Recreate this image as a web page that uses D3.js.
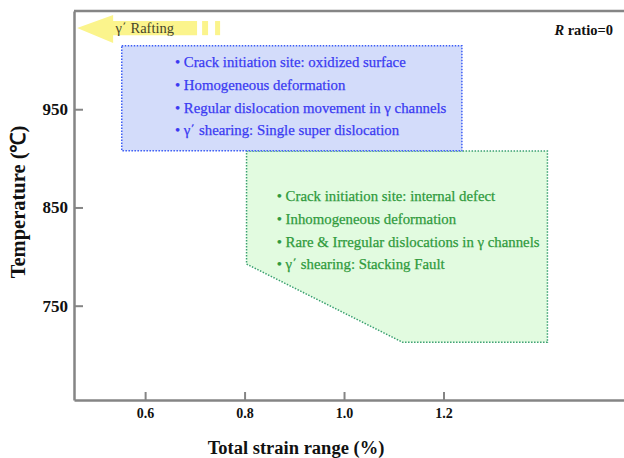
<!DOCTYPE html>
<html>
<head>
<meta charset="utf-8">
<script src="https://cdn.jsdelivr.net/npm/d3@7"></script>
<style>
  body { margin: 0; background: #fff; }
  svg { display: block; }
  text { font-family: "Liberation Serif", "Times New Roman", serif; }
</style>
</head>
<body>
<svg id="chart" width="624" height="458"></svg>
<script>
// axis ticks
const xTicks = [0.6, 0.8, 1.0, 1.2];
const yTicks = [750, 850, 950];

// regions, as [strain %, temperature C]
const blueRegion = [[0.553, 1014.6], [1.237, 1014.6], [1.237, 907.8], [0.553, 907.8]];
const greenRegion = [[0.804, 907.4], [1.409, 907.4], [1.409, 712.7], [1.118, 712.7], [0.804, 792.4]];

// rafting arrow (pointing to lower strain)
const raftArrow = [[0.4633, 1032.7], [0.5357, 1045.9], [0.5357, 1039.8], [0.7045, 1039.8],
                   [0.7045, 1025.4], [0.5357, 1025.4], [0.5357, 1017.4]];
const raftDashes = [[0.7146, 0.7266], [0.7407, 0.7508]];

const blueLines = [
  "• Crack initiation site: oxidized surface",
  "• Homogeneous deformation",
  "• Regular dislocation movement in γ channels",
  "• γ΄ shearing: Single super dislocation"
];
const greenLines = [
  "• Crack initiation site: internal defect",
  "• Inhomogeneous deformation",
  "• Rare & Irregular dislocations in γ channels",
  "• γ΄ shearing: Stacking Fault"
];

const svg = d3.select("#chart");

const x = d3.scaleLinear().domain([0.457, 1.563]).range([74, 624]);
const y = d3.scaleLinear().domain([654, 1050]).range([400, 11]);

const axisColor = "#858585";

// regions
const poly = d3.line().x(d => x(d[0])).y(d => y(d[1])).curve(d3.curveLinearClosed);

svg.append("path")
  .attr("d", poly(greenRegion))
  .attr("fill", "#e2fbe0")
  .attr("stroke", "#3aa070")
  .attr("stroke-width", 1.5)
  .attr("stroke-dasharray", "1.5,1.5");

svg.append("path")
  .attr("d", poly(blueRegion))
  .attr("fill", "#d3dcfa")
  .attr("stroke", "#3b5cf5")
  .attr("stroke-width", 1.5)
  .attr("stroke-dasharray", "1.5,1.5");

// rafting arrow
svg.append("path")
  .attr("d", poly(raftArrow))
  .attr("fill", "#fbf48c");
svg.selectAll(".dash")
  .data(raftDashes)
  .enter()
  .append("rect")
  .attr("x", d => x(d[0]))
  .attr("width", d => x(d[1]) - x(d[0]))
  .attr("y", y(1039.8))
  .attr("height", y(1025.4) - y(1039.8))
  .attr("fill", "#fbf48c");
svg.append("text")
  .attr("x", x(0.5407))
  .attr("y", y(1027.5))
  .attr("font-size", "14.5px")
  .attr("fill", "#46452a")
  .text("γ΄ Rafting");

// region texts
svg.selectAll(".blueTxt")
  .data(blueLines)
  .enter()
  .append("text")
  .attr("x", x(0.660))
  .attr("y", (d, i) => y(993) + i * 22.8)
  .attr("font-size", "14.8px")
  .attr("fill", "#3a3af2")
  .attr("stroke", "#3a3af2")
  .attr("stroke-width", 0.25)
  .text(d => d);

svg.selectAll(".greenTxt")
  .data(greenLines)
  .enter()
  .append("text")
  .attr("x", x(0.8647))
  .attr("y", (d, i) => y(856.5) + i * 22.8)
  .attr("font-size", "14.8px")
  .attr("fill", "#2f9a3c")
  .attr("stroke", "#2f9a3c")
  .attr("stroke-width", 0.25)
  .text(d => d);

// R ratio note
svg.append("text")
  .attr("x", 613)
  .attr("y", 35)
  .attr("text-anchor", "end")
  .attr("font-size", "14.5px")
  .attr("font-weight", "bold")
  .attr("fill", "#111")
  .html('<tspan font-style="italic">R</tspan> ratio=0');

// axes
const xAxis = svg.append("g")
  .attr("transform", `translate(0,${y(654)})`)
  .call(d3.axisBottom(x).tickValues(xTicks).tickSizeInner(-8).tickSizeOuter(0).tickFormat(d3.format(".1f")));
const yAxis = svg.append("g")
  .attr("transform", `translate(${x(0.457)},0)`)
  .call(d3.axisLeft(y).tickValues(yTicks).tickSizeInner(-9).tickSizeOuter(0));

[xAxis, yAxis].forEach(g => {
  g.select(".domain").attr("stroke", axisColor).attr("stroke-width", 2.5);
  g.selectAll(".tick line").attr("stroke", axisColor).attr("stroke-width", 2);
  g.selectAll(".tick text")
    .attr("font-family", "Liberation Serif, serif")
    .attr("font-weight", "bold")
    .attr("fill", "#111");
});
xAxis.selectAll(".tick text").attr("y", 8).attr("font-size", "14px");
yAxis.selectAll(".tick text").attr("x", -6).attr("font-size", "17px");

// top frame line
svg.append("line")
  .attr("x1", x(0.457)).attr("x2", x(1.563))
  .attr("y1", y(1050)).attr("y2", y(1050))
  .attr("stroke", axisColor)
  .attr("stroke-width", 2.5);

// axis titles
svg.append("text")
  .attr("x", 296)
  .attr("y", 454)
  .attr("text-anchor", "middle")
  .attr("font-size", "18.5px")
  .attr("font-weight", "bold")
  .attr("fill", "#111")
  .text("Total strain range (%)");

svg.append("text")
  .attr("transform", "translate(25,202) rotate(-90)")
  .attr("text-anchor", "middle")
  .attr("font-size", "20.5px")
  .attr("font-weight", "bold")
  .attr("fill", "#111")
  .text("Temperature (℃)");
</script>
</body>
</html>
